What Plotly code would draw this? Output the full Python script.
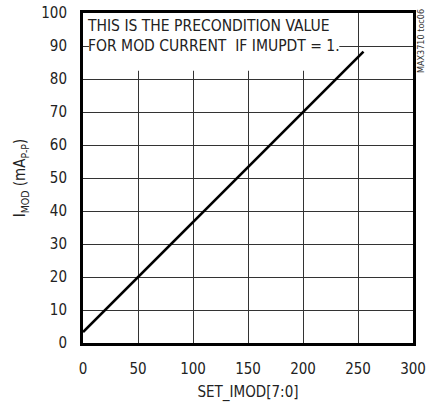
import plotly.graph_objects as go

set_imod = [0, 50, 100, 150, 200, 255]
imod_mapp = [3.3, 20.0, 36.7, 53.3, 70.0, 88.3]

x_ticks = [0, 50, 100, 150, 200, 250, 300]
y_ticks = [0, 10, 20, 30, 40, 50, 60, 70, 80, 90, 100]

note_lines = ["THIS IS THE PRECONDITION VALUE", "FOR MOD CURRENT  IF IMUPDT = 1."]

FONT = "Liberation Sans Narrow, Arial Narrow, DejaVu Sans Condensed, sans-serif"

fig = go.Figure()
fig.add_trace(go.Scatter(x=set_imod, y=imod_mapp, mode="lines",
                         line=dict(color="black", width=2.6), showlegend=False,
                         hoverinfo="skip"))

# white box behind the note, covering gridlines
fig.add_shape(type="rect", xref="x", yref="y", x0=0, x1=233, y0=82.5, y1=100,
              fillcolor="white", line=dict(width=0), layer="between")

fig.add_annotation(xref="x", yref="y", x=2, y=99.5, xanchor="left", yanchor="top",
                   text="<br>".join(note_lines), align="left", showarrow=False,
                   font=dict(family=FONT, size=15.5, color="#222"))

fig.add_annotation(xref="paper", yref="paper", x=1.0, y=1.0, xshift=1,
                   xanchor="left", yanchor="top", yshift=6,
                   text="MAX3710 toc06", textangle=-90, showarrow=False,
                   font=dict(family=FONT, size=9, color="#333"))

axis_common = dict(showgrid=True, gridcolor="#333", gridwidth=1,
                   showline=True, linecolor="black", linewidth=3, mirror=True,
                   ticks="inside", ticklen=6, tickcolor="#333", tickwidth=1,
                   zeroline=False, tickfont=dict(family=FONT, size=15, color="#222"),
                   fixedrange=True, automargin=False)

fig.update_xaxes(range=[0, 300], tickvals=x_ticks, ticklabelstandoff=10,
                 title=dict(text="SET_IMOD[7:0]", standoff=10,
                            font=dict(family=FONT, size=15, color="#222")),
                 **axis_common)
fig.update_yaxes(range=[0, 100], tickvals=y_ticks, ticklabelstandoff=10,
                 title=dict(text="I<sub>MOD</sub> (mA<sub>P-P</sub>)", standoff=12,
                            font=dict(family=FONT, size=15, color="#222")),
                 **axis_common)

fig.update_layout(width=427, height=402, autosize=False,
                  margin=dict(l=83, r=14, t=13, b=59, autoexpand=False),
                  paper_bgcolor="white", plot_bgcolor="white",
                  font=dict(family=FONT, color="#222"))

fig.write_html("out.html", config={"responsive": False, "displayModeBar": False},
               post_script="document.body.style.margin='0';")
